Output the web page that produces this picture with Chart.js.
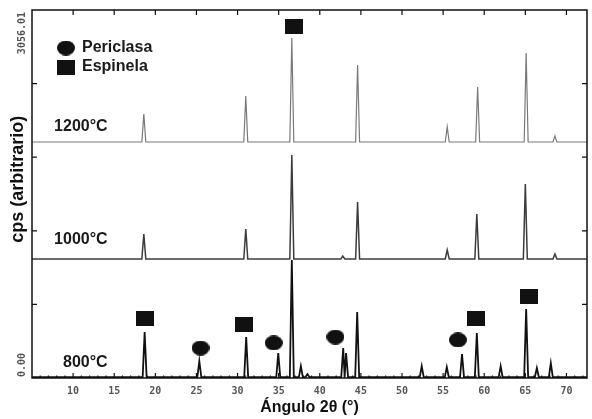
<!DOCTYPE html>
<html>
<head>
<meta charset="utf-8">
<script src="https://cdn.jsdelivr.net/npm/chart.js@4.4.0/dist/chart.umd.min.js"></script>
<style>
  html, body { margin: 0; padding: 0; background: #fff; }
</style>
</head>
<body>
<canvas id="myChart" width="592" height="419"></canvas>
<script>
// peak positions (2θ) and heights above each trace's baseline
let angles1200 = [18.6, 31.0, 36.6, 44.6, 55.5, 59.2, 65.1, 68.6];
let counts1200 = [233, 382, 864, 640, 125, 457, 739, 50];
let angles1000 = [18.6, 31.0, 36.6, 42.8, 44.6, 55.5, 59.1, 65.0, 68.6];
let counts1000 = [208, 249, 864, 25, 473, 75, 374, 623, 42];
let angles800 = [18.7, 25.35, 31.05, 34.95, 36.6, 37.7, 38.5, 42.85, 43.2, 44.55, 52.4, 55.45, 57.3, 59.1, 62.0, 65.1, 66.4, 68.1];
let counts800 = [374, 133, 332, 200, 972, 91, 25, 241, 200, 540, 91, 83, 191, 365, 91, 565, 75, 116];
let baselines = [1960, 988, 8];
let tempLabels = ["1200°C", "1000°C", "800°C"];

// phase markers
let espinelaAngles = [36.9, 18.8, 30.8, 59.0, 65.4];
let espinelaCps = [2915, 498, 448, 498, 673];
let periclasaAngles = [25.5, 34.4, 41.9, 56.8];
let periclasaCps = [249, 291, 340, 316];

let xMin = 5;
let xMax = 72.5;
let yMax = 3056.01;
let yTickLabels = ["0.00", "", "", "", "", "3056.01"];

let halfWidth = 0.24;
let monoFont = "'DejaVu Sans Mono', monospace";
let sansFont = "'Liberation Sans', Arial, sans-serif";

function buildTrace(angles, counts, base) {
  let pts = [{ x: xMin, y: base }];
  angles.forEach((a, i) => {
    let prev = i > 0 ? (angles[i - 1] + a) / 2 : xMin;
    let next = i < angles.length - 1 ? (a + angles[i + 1]) / 2 : xMax;
    pts.push({ x: Math.max(a - halfWidth, prev), y: base });
    pts.push({ x: a, y: base + counts[i] });
    pts.push({ x: Math.min(a + halfWidth, next), y: base });
  });
  pts.push({ x: xMax, y: base });
  return pts;
}

function makeMarker(shape, w, h) {
  let c = document.createElement("canvas");
  c.width = w;
  c.height = h;
  let g = c.getContext("2d");
  g.fillStyle = "#111";
  if (shape === "circle") {
    g.beginPath();
    g.ellipse(w / 2, h / 2, w / 2, h / 2, 0, 0, Math.PI * 2);
    g.fill();
  } else {
    g.fillRect(0, 0, w, h);
  }
  return c;
}

let circleImg = makeMarker("circle", 18, 15);
let squareImg = makeMarker("rect", 18, 15);

function zipPoints(xs, ys) {
  return xs.map((x, i) => ({ x: x, y: ys[i] }));
}

let framePlugin = {
  id: "frame",
  afterDraw(chart) {
    let ctx = chart.ctx;
    let area = chart.chartArea;
    let xs = chart.scales.x;
    let ys = chart.scales.y;
    ctx.save();
    ctx.strokeStyle = "#111";
    ctx.lineWidth = 1.5;
    ctx.strokeRect(area.left, area.top, area.right - area.left, area.bottom - area.top);

    // inward ticks
    ctx.lineWidth = 1.2;
    ctx.beginPath();
    for (let v = 6; v < xMax; v++) {
      let px = xs.getPixelForValue(v);
      let len = v % 5 === 0 ? 5 : 2.5;
      ctx.moveTo(px, area.bottom);
      ctx.lineTo(px, area.bottom - len);
      if (v % 5 === 0) {
        ctx.moveTo(px, area.top);
        ctx.lineTo(px, area.top + 5);
      }
    }
    ys.ticks.forEach((t, i) => {
      if (i === 0 || i === ys.ticks.length - 1) return;
      let py = ys.getPixelForValue(t.value);
      ctx.moveTo(area.left, py);
      ctx.lineTo(area.left + 5, py);
      ctx.moveTo(area.right, py);
      ctx.lineTo(area.right - 5, py);
    });
    ctx.stroke();

    // rotated y tick labels
    ctx.fillStyle = "#555";
    ctx.font = "bold 10px " + monoFont;
    ctx.textBaseline = "middle";
    ys.ticks.forEach((t, i) => {
      let text = yTickLabels[i];
      if (!text) return;
      let py = ys.getPixelForValue(t.value);
      ctx.save();
      ctx.translate(area.left - 10, py);
      ctx.rotate(-Math.PI / 2);
      ctx.textAlign = i === 0 ? "left" : "right";
      ctx.fillText(text, i === 0 ? 1 : -2, 0);
      ctx.restore();
    });

    // y axis title
    ctx.save();
    ctx.fillStyle = "#111";
    ctx.font = "bold 18px " + sansFont;
    ctx.textAlign = "center";
    ctx.translate(area.left - 14, ys.getPixelForValue(1650));
    ctx.rotate(-Math.PI / 2);
    ctx.fillText("cps (arbitrario)", 0, 0);
    ctx.restore();

    // temperature labels
    ctx.fillStyle = "#1a1a1a";
    ctx.font = "bold 16px " + sansFont;
    ctx.textAlign = "right";
    let tx = xs.getPixelForValue(14.2);
    let lift = [15, 19, 14];
    tempLabels.forEach((label, i) => {
      ctx.fillText(label, tx, ys.getPixelForValue(baselines[i]) - lift[i]);
    });

    // legend
    let lx = area.left + 34;
    let legend = [[circleImg, "Periclasa", 38], [squareImg, "Espinela", 57]];
    ctx.textAlign = "left";
    legend.forEach(([img, text, ly]) => {
      ctx.drawImage(img, lx - img.width / 2, area.top + ly - img.height / 2);
      ctx.fillText(text, lx + 16, area.top + ly);
    });
    ctx.restore();
  },
};

let ctx = document.getElementById("myChart").getContext("2d");
let chart = new Chart(ctx, {
  type: "line",
  data: {
    datasets: [
      {
        label: "1200°C",
        data: buildTrace(angles1200, counts1200, baselines[0]),
        borderColor: "#7a7a7a",
        borderWidth: 1.2,
        pointRadius: 0,
        tension: 0,
      },
      {
        label: "1000°C",
        data: buildTrace(angles1000, counts1000, baselines[1]),
        borderColor: "#3c3c3c",
        borderWidth: 1.5,
        pointRadius: 0,
        tension: 0,
      },
      {
        label: "800°C",
        data: buildTrace(angles800, counts800, baselines[2]),
        borderColor: "#111",
        borderWidth: 1.8,
        pointRadius: 0,
        tension: 0,
      },
      {
        label: "Espinela",
        type: "scatter",
        data: zipPoints(espinelaAngles, espinelaCps),
        pointStyle: squareImg,
        showLine: false,
      },
      {
        label: "Periclasa",
        type: "scatter",
        data: zipPoints(periclasaAngles, periclasaCps),
        pointStyle: circleImg,
        showLine: false,
      },
    ],
  },
  options: {
    responsive: false,
    animation: false,
    layout: { padding: { top: 10, right: 3 } },
    plugins: {
      legend: { display: false },
      tooltip: { enabled: false },
    },
    scales: {
      x: {
        type: "linear",
        min: xMin,
        max: xMax,
        grid: { display: false },
        border: { display: false },
        ticks: {
          stepSize: 5,
          includeBounds: false,
          autoSkip: false,
          maxRotation: 0,
          padding: -1,
          color: "#555",
          font: { family: monoFont, size: 10, weight: "bold" },
          callback: (v) => (v >= 10 && v % 5 === 0 ? v : ""),
        },
        title: {
          display: true,
          text: "Ángulo 2θ (°)",
          color: "#111",
          font: { family: sansFont, size: 16, weight: "bold" },
          padding: { top: 0, bottom: 2 },
        },
        afterFit(scale) {
          scale.height = 41;
        },
      },
      y: {
        min: 0,
        max: yMax,
        grid: { display: false },
        border: { display: false },
        ticks: { display: false, count: 6 },
        title: { display: false },
        afterFit(scale) {
          scale.width = 32;
        },
      },
    },
  },
  plugins: [framePlugin],
});
</script>
</body>
</html>
